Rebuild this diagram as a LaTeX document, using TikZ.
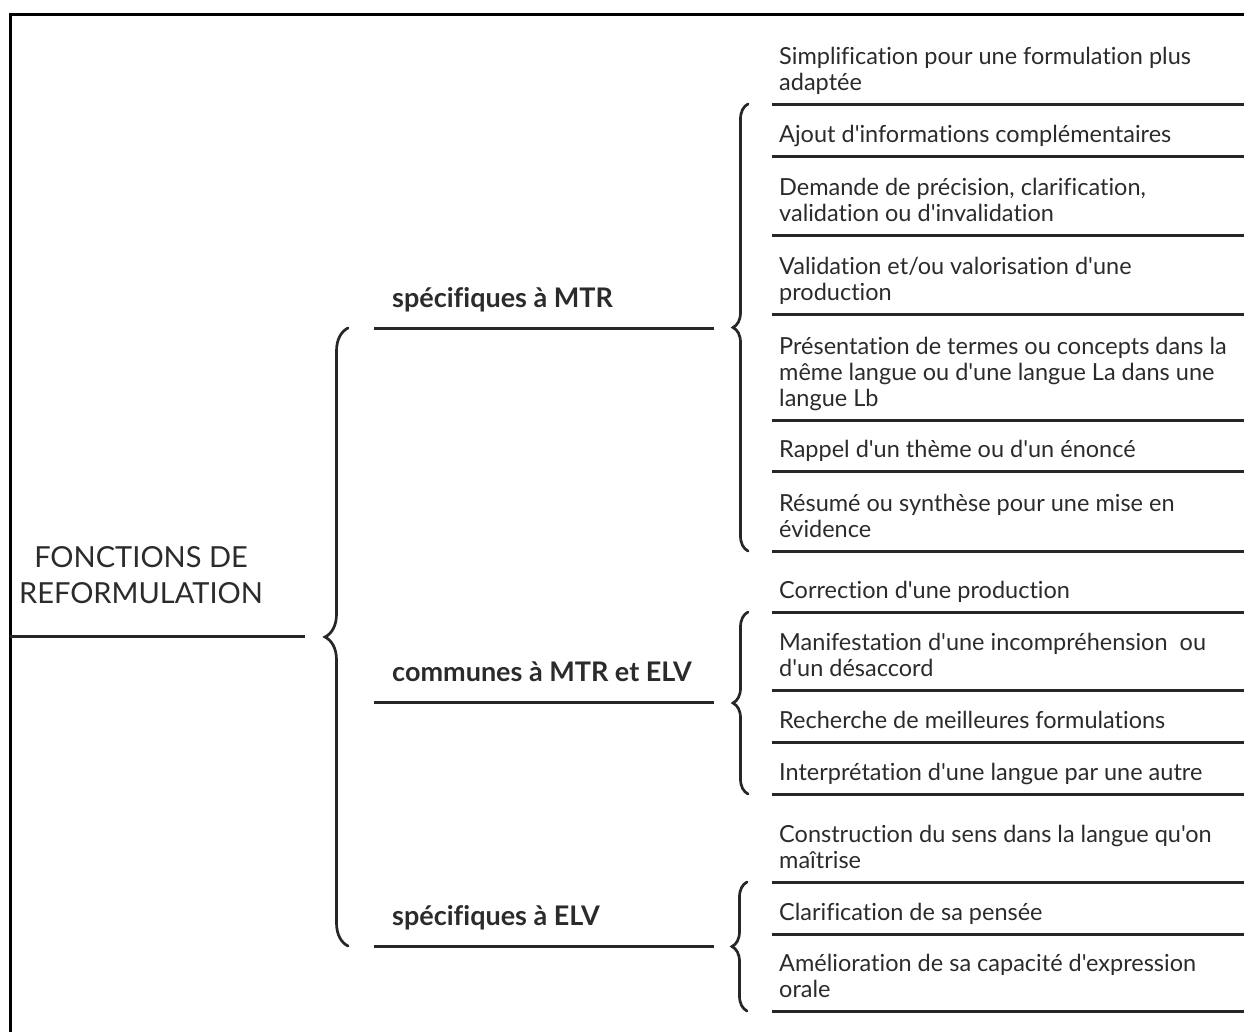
\documentclass[tikz,border=0pt]{standalone}
\usepackage{fontspec}
\setmainfont{Lato}[Ligatures={TeXOff,NoCommon}]
\usetikzlibrary{decorations.pathreplacing}
\definecolor{txt}{HTML}{2B2B2B}
\definecolor{lncol}{HTML}{262626}
\newcommand\stkL[1]{\begin{tabular}[b]{@{}l@{}}#1\end{tabular}}
\newcommand\stkC[1]{\begin{tabular}[t]{@{}c@{}}#1\end{tabular}}
\tikzset{
  ln/.style={line width=3pt, draw=lncol},
  frame/.style={line width=3pt, draw=black},
  brc/.style={decorate, line width=2.7pt, draw=lncol, line cap=round},
  leaf/.style={anchor=base west, inner sep=0pt, text=txt, font=\fontsize{23.5}{26}\selectfont},
  branchlbl/.style={anchor=base west, inner sep=0pt, text=txt, font=\fontsize{27}{28}\selectfont\bfseries},
  rootlbl/.style={anchor=base, inner sep=0pt, text=txt, font=\fontsize{29}{36}\selectfont},
}
\begin{document}
\begin{tikzpicture}[x=1pt,y=-1pt]
\useasboundingbox (0,0) rectangle (1244,1031);
\clip (0,0) rectangle (1244,1031);
% frame
\coordinate (fa) at (10,1045);
\coordinate (fb) at (10,14);
\coordinate (fc) at (1250,14);
\draw[frame] (fa) -- (fb) -- (fc);

% root
\node[rootlbl] (root) at (141,567) {\stkC{FONCTIONS DE\\REFORMULATION}};
\coordinate (r0) at (10,636);
\coordinate (r1) at (305,636);
\draw[ln] (r0) -- (r1);

% big brace
\coordinate (B0) at (348,946);
\coordinate (B1) at (348,328);
\draw[brc, decoration={brace, amplitude=23pt}] (B0) -- (B1);

% branches
\coordinate (m0) at (374,328); \coordinate (m1) at (714,328);
\coordinate (c0) at (374,702); \coordinate (c1) at (714,702);
\coordinate (e0) at (374,946); \coordinate (e1) at (714,946);
\draw[ln] (m0) -- (m1);
\draw[ln] (c0) -- (c1);
\draw[ln] (e0) -- (e1);
\node[branchlbl] (bm) at (392,307) {spécifiques à MTR};
\node[branchlbl] (bc) at (392,681) {communes à MTR et ELV};
\node[branchlbl] (be) at (392,925) {spécifiques à ELV};

% leaf braces
\coordinate (mb0) at (748,551); \coordinate (mb1) at (748,104);
\coordinate (cb0) at (748,794); \coordinate (cb1) at (748,612);
\coordinate (eb0) at (747,1011); \coordinate (eb1) at (747,882);
\draw[brc, decoration={brace, amplitude=15pt}] (mb0) -- (mb1);
\draw[brc, decoration={brace, amplitude=15pt}] (cb0) -- (cb1);
\draw[brc, decoration={brace, amplitude=15pt}] (eb0) -- (eb1);

% leaves
\foreach \n/\y/\t in {
  1/104/{Simplification pour une formulation plus\\adaptée},
  2/156/{Ajout d'informations complémentaires},
  3/235/{Demande de précision, clarification,\\validation ou d'invalidation},
  4/314/{Validation et/ou valorisation d'une\\production},
  5/420/{Présentation de termes ou concepts dans la\\même langue ou d'une langue La dans une\\langue Lb},
  6/471/{Rappel d'un thème ou d'un énoncé},
  7/551/{Résumé ou synthèse pour une mise en\\évidence},
  8/612/{Correction d'une production},
  9/690/{Manifestation d'une incompréhension\ \ ou\\d'un désaccord},
  10/742/{Recherche de meilleures formulations},
  11/794/{Interprétation d'une langue par une autre},
  12/882/{Construction du sens dans la langue qu'on\\maîtrise},
  13/934/{Clarification de sa pensée},
  14/1011/{Amélioration de sa capacité d'expression\\orale}}{
  \node[leaf] (leaf\n) at (779,\y-14) {\stkL{\t}};
  \coordinate (la\n) at (772,\y);
  \coordinate (lb\n) at (1250,\y);
  \draw[ln] (la\n) -- (lb\n);
}
\end{tikzpicture}
\end{document}
